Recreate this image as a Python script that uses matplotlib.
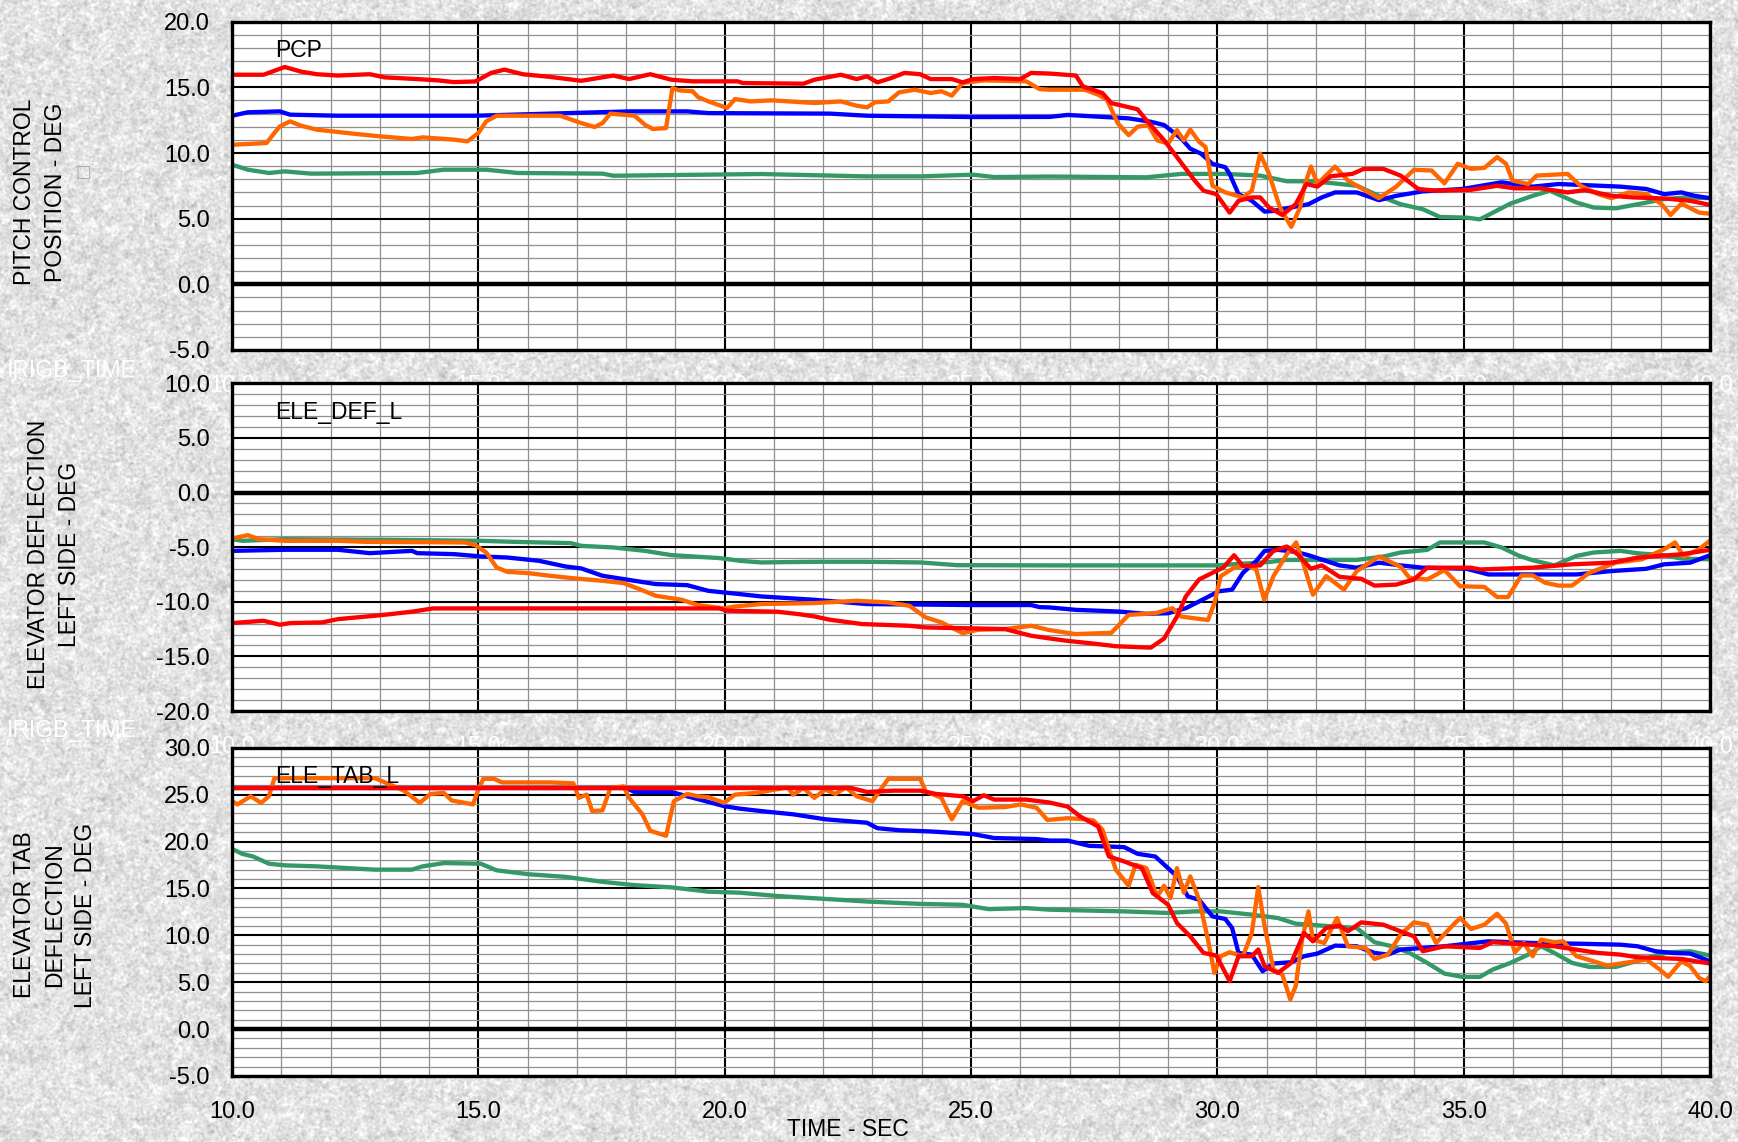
import numpy as np
import matplotlib
matplotlib.use("Agg")
import matplotlib.pyplot as plt
from matplotlib.ticker import MultipleLocator, FormatStrFormatter

plt.rcParams['font.family'] = ['Liberation Sans', 'DejaVu Sans']

# ---------------- time-history data (time in s, angle in deg) ----------------
# Pitch control position
pcp_red_t = [10, 10.64, 11.07, 11.4, 11.72, 12.15, 12.8, 13.1, 13.76, 14.19, 14.5, 14.94, 15.26, 15.53, 15.9,
             16.45, 17.09, 17.74, 18.06, 18.49, 18.92, 19.35, 20.26, 20.37, 21.6, 21.82, 22.36, 22.68, 22.89, 23.1,
             23.38, 23.65, 23.97, 24.18, 24.61, 24.83, 25.04, 25.47, 26.0, 26.22, 26.6, 27.13, 27.27, 27.67, 27.85,
             28.38, 28.56, 28.92, 29.18, 29.54, 29.72, 29.98, 30.25, 30.43, 30.7, 30.87, 31.05, 31.32, 31.59, 31.81,
             32.03, 32.3, 32.74, 32.97, 33.37, 33.72, 34.08, 34.44, 35.15, 35.68, 36.04, 36.57, 37.11, 37.46, 38.0,
             38.44, 39.07, 39.6, 40.0]
pcp_red_v = [15.96, 15.96, 16.55, 16.2, 16.0, 15.9, 16.0, 15.76, 15.63, 15.53, 15.4, 15.45, 16.1, 16.35, 16.0,
             15.8, 15.5, 15.9, 15.63, 16.0, 15.58, 15.46, 15.46, 15.33, 15.28, 15.58, 15.96, 15.63, 15.84, 15.38,
             15.71, 16.1, 16.0, 15.63, 15.63, 15.38, 15.63, 15.71, 15.63, 16.1, 16.05, 15.9, 15.08, 14.56, 13.8,
             13.33, 12.5, 10.97, 9.69, 7.9, 7.13, 6.87, 5.46, 6.36, 6.62, 6.62, 5.85, 5.28, 6.1, 7.64,
             7.44, 8.23, 8.41, 8.79, 8.79, 8.28, 7.26, 7.13, 7.2, 7.5, 7.31, 7.31, 7.0, 7.18, 6.74,
             6.62, 6.54, 6.36, 6.05]

pcp_blue_t = [10, 10.32, 10.97, 11.18, 12.15, 14.94, 16.45, 18.06, 19.24, 19.67, 22.14, 22.89, 25.04, 26.6, 26.96,
              28.2, 28.65, 28.92, 29.27, 29.45, 29.67, 29.9, 30.16, 30.25, 30.43, 30.7, 30.96, 31.14, 31.59, 31.85,
              32.12, 32.39, 32.83, 33.28, 33.63, 34.17, 34.97, 35.77, 36.4, 36.93, 38.18, 38.71, 39.07, 39.42, 39.69,
              40.0]
pcp_blue_v = [12.84, 13.1, 13.17, 12.92, 12.84, 12.84, 13.0, 13.17, 13.17, 13.04, 13.0, 12.84, 12.74, 12.75, 12.9,
              12.64, 12.38, 12.13, 11.1, 10.33, 9.95, 9.18, 8.92, 8.41, 6.87, 6.36, 5.54, 5.59, 5.92, 6.1,
              6.62, 7.0, 7.0, 6.41, 6.74, 7.08, 7.26, 7.77, 7.44, 7.64, 7.44, 7.26, 6.87, 7.0, 6.74,
              6.56]

pcp_orange_t = [10, 10.43, 10.7, 10.86, 10.97, 11.18, 11.4, 11.72, 12.47, 13.0,
                13.65, 13.87, 14.51, 14.78, 15.0, 15.16, 15.37, 16.66, 17.09, 17.36,
                17.52, 17.68, 18.17, 18.38, 18.54, 18.81, 18.94, 19.08, 19.35, 19.46,
                19.67, 20.05, 20.21, 20.53, 20.96, 21.82, 22.36, 22.68, 22.89, 23.05,
                23.32, 23.54, 23.86, 24.18, 24.4, 24.61, 24.83, 25.26, 26.12, 26.39,
                26.6, 27.31, 27.58, 27.76, 27.98, 28.2, 28.38, 28.6, 28.78, 29.0,
                29.18, 29.32, 29.45, 29.63, 29.76, 29.9, 30.16, 30.52, 30.7, 30.87,
                31.05, 31.27, 31.5, 31.68, 31.77, 31.9, 32.03, 32.39, 32.65, 33.01,
                33.28, 33.63, 33.99, 34.35, 34.61, 34.88, 35.15, 35.42, 35.68, 35.86,
                35.99, 36.31, 36.48, 37.11, 37.37, 37.73, 38.0, 38.35, 38.71, 39.02,
                39.2, 39.42, 39.78, 40.0]
pcp_orange_v = [10.63, 10.71, 10.76, 11.52, 12.03, 12.41, 12.08, 11.78, 11.47, 11.27,
                11.07, 11.19, 11.02, 10.89, 11.52, 12.41, 12.84, 12.84, 12.28, 11.98,
                12.28, 13.0, 12.84, 12.16, 11.83, 11.9, 14.95, 14.77, 14.7, 14.26,
                13.93, 13.43, 14.11, 13.93, 14.01, 13.81, 13.93, 13.6, 13.48, 13.86,
                13.93, 14.62, 14.82, 14.57, 14.7, 14.37, 15.33, 15.53, 15.46, 14.87,
                14.82, 14.82, 14.44, 14.05, 12.26, 11.36, 12.0, 12.13, 10.97, 10.72,
                11.74, 10.97, 11.79, 10.85, 10.46, 7.51, 7.0, 6.62, 7.13, 9.95,
                8.41, 5.85, 4.38, 5.85, 7.51, 8.97, 7.64, 8.97, 7.9, 7.13,
                6.56, 7.44, 8.72, 8.67, 7.69, 9.18, 8.79, 8.87, 9.69, 9.18,
                7.9, 7.64, 8.28, 8.41, 7.51, 6.87, 6.56, 7.0, 6.87, 6.1,
                5.28, 6.15, 5.46, 5.38]

pcp_green_t = [10, 10.32, 10.75, 11.07, 11.61, 13.76, 14.3, 15.16, 15.8, 17.52,
               17.74, 20.74, 22.89, 23.97, 25.04, 25.47, 26.6, 28.56, 29.27, 30.16,
               30.87, 31.41, 31.94, 32.83, 33.28, 33.72, 34.17, 34.52, 35.06, 35.33,
               35.95, 36.4, 36.75, 37.29, 37.64, 38.09, 38.53, 39.07, 39.51, 40.0]
pcp_green_v = [9.11, 8.73, 8.48, 8.6, 8.43, 8.48, 8.73, 8.73, 8.48, 8.43,
               8.27, 8.4, 8.22, 8.22, 8.35, 8.17, 8.21, 8.15, 8.41, 8.41,
               8.28, 7.85, 7.85, 7.51, 6.74, 6.1, 5.72, 5.13, 5.08, 4.95,
               6.15, 6.74, 7.13, 6.23, 5.85, 5.79, 6.1, 6.49, 6.62, 6.56]

# Elevator deflection, left side
def_green_t = [10, 10.21, 11.07, 13.22, 15.05, 15.69, 16.88, 17.09, 17.74, 18.38,
               18.92, 19.89, 20.31, 20.74, 21.82, 22.89, 23.97, 24.72, 26.6, 29.98,
               31.05, 31.41, 32.83, 33.37, 33.72, 34.26, 34.52, 35.42, 35.77, 36.13,
               36.4, 36.84, 37.29, 37.64, 38.18, 38.53, 39.07, 39.42, 40.0]
def_green_v = [-4.27, -4.42, -4.27, -4.33, -4.42, -4.51, -4.63, -4.88, -5.03, -5.34,
               -5.73, -6.0, -6.25, -6.4, -6.34, -6.34, -6.4, -6.65, -6.67, -6.67,
               -6.36, -6.17, -6.17, -5.86, -5.49, -5.25, -4.57, -4.57, -5.03, -5.8,
               -6.2, -6.67, -5.8, -5.49, -5.34, -5.56, -5.74, -6.05, -6.11]

def_orange_t = [10, 10.32, 10.54, 11.07, 12.15, 12.69, 14.73, 14.94, 15.16, 15.37,
                15.59, 16.02, 16.45, 16.98, 17.52, 17.95, 18.27, 18.6, 19.13, 19.46,
                19.99, 20.21, 20.74, 21.82, 22.68, 23.32, 23.75, 24.08, 24.4, 24.83,
                25.15, 25.69, 26.22, 26.6, 27.13, 27.85, 28.2, 28.74, 29.09, 29.27,
                29.81, 29.94, 30.07, 30.34, 30.61, 30.79, 30.95, 31.14, 31.41, 31.6,
                31.76, 31.94, 32.21, 32.57, 32.83, 33.28, 33.72, 33.9, 34.26, 34.61,
                34.93, 35.42, 35.68, 35.9, 36.17, 36.4, 36.66, 36.93, 37.2, 37.55,
                38.09, 38.62, 39.07, 39.29, 39.47, 39.78, 40.0]
def_orange_v = [-4.21, -3.9, -4.27, -4.42, -4.42, -4.51, -4.57, -4.82, -5.49, -6.86,
                -7.26, -7.38, -7.62, -7.87, -8.08, -8.29, -8.84, -9.45, -9.82, -10.3,
                -10.61, -10.43, -10.21, -10.12, -9.91, -10.06, -10.37, -11.43, -11.89, -12.87,
                -12.56, -12.5, -12.2, -12.6, -12.96, -12.84, -11.2, -11.05, -10.59, -11.36,
                -11.67, -10.12, -7.65, -6.88, -6.67, -7.04, -9.81, -7.65, -5.65, -4.57,
                -6.73, -9.35, -7.65, -8.89, -7.19, -5.86, -6.79, -7.81, -7.96, -7.1,
                -8.58, -8.64, -9.57, -9.57, -7.59, -7.59, -8.27, -8.52, -8.52, -7.35,
                -6.42, -6.11, -5.19, -4.57, -5.86, -5.19, -4.41]

def_blue_t = [10, 11.07, 12.15, 12.79, 13.65, 13.76, 14.51, 15.05, 15.59, 16.23,
              16.77, 17.09, 17.52, 18.17, 18.6, 19.24, 19.67, 20.31, 20.74, 21.82,
              22.89, 25.04, 26.22, 26.39, 26.6, 27.13, 28.02, 28.56, 29.0, 29.36,
              29.63, 30.03, 30.3, 30.52, 30.79, 30.96, 31.23, 31.59, 31.85, 32.21,
              32.48, 32.83, 33.28, 33.72, 34.17, 35.06, 35.5, 37.29, 38.0, 38.71,
              39.07, 39.6, 39.87, 40.0]
def_blue_v = [-5.34, -5.24, -5.24, -5.55, -5.34, -5.55, -5.64, -5.85, -5.95, -6.25,
              -6.77, -6.95, -7.62, -8.08, -8.38, -8.48, -9.0, -9.3, -9.51, -9.82,
              -10.21, -10.3, -10.3, -10.49, -10.52, -10.74, -10.9, -11.11, -11.05, -10.59,
              -9.97, -9.04, -8.89, -7.35, -6.27, -5.34, -5.25, -5.43, -5.74, -6.27,
              -6.67, -6.88, -6.42, -6.67, -6.88, -6.98, -7.5, -7.5, -7.19, -6.98,
              -6.57, -6.42, -5.96, -5.74]

def_red_t = [10, 10.64, 10.97, 11.18, 11.83, 12.15, 12.9, 13.22, 13.65, 14.08,
             19.89, 20.05, 21.07, 21.5, 21.82, 22.14, 22.79, 23.75, 24.08, 25.69,
             26.22, 26.6, 26.96, 27.49, 27.94, 28.65, 28.92, 29.18, 29.36, 29.63,
             29.9, 30.12, 30.34, 30.52, 30.87, 31.14, 31.41, 31.63, 31.9, 32.12,
             32.3, 32.48, 32.92, 33.19, 33.63, 33.99, 34.26, 35.15, 35.33, 36.4,
             37.2, 38.0, 38.53, 39.42, 40.0]
def_red_v = [-11.95, -11.74, -12.1, -11.95, -11.89, -11.59, -11.28, -11.13, -10.91, -10.61,
             -10.61, -10.82, -10.91, -11.13, -11.34, -11.65, -12.04, -12.2, -12.35, -12.5,
             -13.11, -13.36, -13.58, -13.83, -14.07, -14.2, -13.36, -11.36, -9.51, -7.96,
             -7.35, -6.88, -5.74, -6.73, -6.67, -5.34, -4.94, -5.65, -6.98, -6.67,
             -7.19, -7.72, -7.9, -8.52, -8.43, -7.96, -6.88, -6.88, -7.04, -6.88,
             -6.57, -6.42, -5.96, -5.65, -5.25]

# Elevator tab deflection, left side
tab_red_t = [10, 22.57, 22.89, 23.43, 23.97, 24.29, 24.83, 25.04, 25.26, 25.47,
             26.12, 26.6, 26.96, 27.22, 27.58, 27.8, 28.11, 28.47, 28.69, 29.0,
             29.18, 29.45, 29.72, 29.98, 30.25, 30.43, 30.7, 30.83, 30.96, 31.23,
             31.5, 31.76, 31.94, 32.21, 32.48, 32.65, 32.92, 33.37, 33.63, 33.99,
             34.17, 34.61, 35.33, 35.59, 36.04, 36.84, 37.73, 38.18, 38.53, 39.42, 40.0]
tab_red_v = [25.7, 25.7, 25.28, 25.42, 25.42, 25.07, 24.82, 24.3, 24.93, 24.47,
             24.47, 24.15, 23.72, 22.66, 21.6, 18.4, 17.87, 17.16, 14.5, 13.26,
             11.31, 9.89, 8.12, 7.84, 5.11, 7.77, 7.77, 8.48, 6.7, 5.99,
             7.06, 10.25, 9.36, 10.78, 11.03, 10.43, 11.38, 11.13, 10.6, 9.89,
             8.3, 8.83, 8.65, 9.26, 9.11, 8.83, 8.12, 7.94, 7.66, 7.48, 6.99]

tab_orange_t = [10, 10.11, 10.38, 10.59, 10.75, 10.86, 12.9, 13.22, 13.49, 13.81,
                14.03, 14.3, 14.46, 14.73, 14.89, 15.0, 15.1, 15.32, 15.48, 16.45,
                16.93, 17.04, 17.2, 17.31, 17.52, 17.68, 17.95, 18.06, 18.33, 18.49,
                18.81, 18.97, 19.24, 19.46, 19.67, 19.99, 20.21, 20.64, 21.28, 21.39,
                21.6, 21.82, 22.04, 22.25, 22.46, 22.68, 23.0, 23.32, 23.97, 24.08,
                24.4, 24.61, 24.83, 25.15, 25.69, 26.01, 26.33, 26.55, 26.96, 27.31,
                27.49, 27.67, 27.94, 28.2, 28.34, 28.56, 28.78, 28.92, 29.05, 29.18,
                29.32, 29.45, 29.63, 29.81, 29.94, 30.07, 30.25, 30.52, 30.7, 30.83,
                30.96, 31.14, 31.32, 31.48, 31.59, 31.72, 31.85, 31.94, 32.17, 32.43,
                32.65, 33.01, 33.19, 33.46, 33.72, 33.99, 34.26, 34.44, 34.79, 34.93,
                35.15, 35.42, 35.68, 35.86, 36.04, 36.22, 36.4, 36.57, 36.84, 37.02,
                37.29, 37.64, 37.91, 38.27, 38.71, 38.98, 39.15, 39.42, 39.6, 39.78,
                39.91, 40.0]
tab_orange_v = [24.3, 23.95, 24.82, 24.12, 24.82, 26.75, 26.75, 26.05, 25.42, 24.12,
                25.07, 25.18, 24.37, 24.12, 23.95, 25.53, 26.68, 26.68, 26.3, 26.3,
                26.2, 24.65, 25.0, 23.25, 23.32, 25.7, 25.88, 24.65, 22.9, 21.14,
                20.61, 24.3, 25.07, 24.82, 24.72, 24.12, 25.0, 25.18, 25.77, 25.0,
                25.7, 24.65, 25.53, 25.07, 25.77, 24.82, 24.3, 26.68, 26.68, 25.35,
                24.65, 22.37, 24.3, 23.6, 23.67, 23.95, 23.6, 22.3, 22.48, 22.37,
                22.23, 21.24, 16.99, 15.28, 17.52, 17.16, 14.15, 15.28, 13.97, 17.16,
                14.54, 16.28, 13.79, 9.54, 5.99, 7.77, 8.19, 7.77, 10.25, 15.14,
                10.96, 6.35, 5.82, 3.16, 4.57, 9.54, 12.55, 9.54, 9.18, 11.84,
                8.83, 8.65, 7.48, 7.94, 10.07, 11.38, 11.13, 9.18, 11.13, 11.84,
                10.67, 11.13, 12.3, 11.24, 8.19, 9.18, 7.77, 9.54, 9.26, 9.36,
                7.77, 7.23, 6.77, 7.06, 7.41, 6.35, 5.57, 7.23, 6.7, 5.46,
                5.11, 5.64]

tab_blue_t = [10, 18.0, 18.17, 18.92, 19.24, 19.99, 20.31, 20.85, 21.39, 22.04,
              22.89, 23.1, 23.54, 24.18, 25.04, 25.47, 26.33, 26.6, 26.96, 27.4,
              28.11, 28.38, 28.74, 29.0, 29.18, 29.4, 29.63, 29.9, 30.16, 30.3,
              30.43, 30.7, 30.92, 31.14, 31.5, 31.76, 32.03, 32.39, 32.83, 33.19,
              33.46, 33.72, 34.17, 34.61, 35.5, 36.4, 37.29, 38.18, 38.53, 38.89,
              39.24, 39.6, 40.0]
tab_blue_v = [25.7, 25.7, 25.28, 25.28, 24.82, 23.77, 23.5, 23.18, 22.9, 22.37,
              22.0, 21.42, 21.2, 21.07, 20.79, 20.37, 20.26, 20.1, 20.1, 19.54,
              19.4, 18.69, 18.4, 17.16, 16.28, 14.15, 13.79, 12.02, 11.74, 10.78,
              8.12, 7.94, 6.17, 6.99, 7.13, 7.77, 8.05, 8.9, 8.83, 8.12,
              7.94, 8.48, 8.65, 8.83, 9.36, 9.18, 9.11, 9.0, 8.83, 8.3,
              8.12, 8.05, 7.23]

tab_green_t = [10, 10.21, 10.43, 10.75, 11.07, 11.72, 12.9, 13.65, 13.87, 14.3,
               15.05, 15.37, 16.02, 16.77, 17.52, 18.17, 18.92, 19.67, 20.31, 21.07,
               21.82, 22.89, 23.97, 24.83, 25.36, 26.12, 26.6, 28.11, 29.0, 29.54,
               30.07, 30.7, 31.23, 31.59, 32.12, 32.83, 33.19, 33.55, 33.9, 34.26,
               34.61, 34.97, 35.33, 35.59, 35.95, 36.31, 36.57, 36.84, 37.2, 37.55,
               38.09, 38.62, 39.15, 39.6, 40.0]
tab_green_v = [19.21, 18.68, 18.4, 17.63, 17.46, 17.35, 17.0, 17.0, 17.35, 17.7,
               17.63, 16.93, 16.51, 16.23, 15.7, 15.35, 15.11, 14.65, 14.54, 14.19,
               13.95, 13.6, 13.35, 13.25, 12.79, 12.9, 12.73, 12.55, 12.38, 12.55,
               12.55, 12.2, 11.84, 11.24, 11.03, 10.78, 9.26, 8.83, 8.12, 7.06,
               5.92, 5.57, 5.57, 6.35, 7.06, 7.94, 8.83, 8.12, 7.06, 6.63,
               6.63, 7.41, 8.19, 8.3, 7.84]

panel_titles = ["PCP", "ELE_DEF_L", "ELE_TAB_L"]
panel_ylabels = ["PITCH CONTROL\nPOSITION - DEG",
                 "ELEVATOR DEFLECTION\nLEFT SIDE - DEG",
                 "ELEVATOR TAB\nDEFLECTION\nLEFT SIDE - DEG"]
panel_ylims = [(-5, 20), (-20, 10), (-5, 30)]
x_ticks = [10, 15, 20, 25, 30, 35, 40]

C_GREEN, C_BLUE, C_ORANGE, C_RED = "#339966", "#0000FF", "#FF6600", "#FF0000"

panel_series = [
    [(pcp_green_t, pcp_green_v, C_GREEN), (pcp_blue_t, pcp_blue_v, C_BLUE),
     (pcp_orange_t, pcp_orange_v, C_ORANGE), (pcp_red_t, pcp_red_v, C_RED)],
    [(def_green_t, def_green_v, C_GREEN), (def_blue_t, def_blue_v, C_BLUE),
     (def_orange_t, def_orange_v, C_ORANGE), (def_red_t, def_red_v, C_RED)],
    [(tab_green_t, tab_green_v, C_GREEN), (tab_blue_t, tab_blue_v, C_BLUE),
     (tab_orange_t, tab_orange_v, C_ORANGE), (tab_red_t, tab_red_v, C_RED)],
]

# ---------------- figure with a granite-like backdrop ----------------
W, H = 1738, 1142
fig = plt.figure(figsize=(W / 100, H / 100), dpi=100)

rng = np.random.default_rng(11)


def smooth(a, s):
    fy = np.fft.fftfreq(a.shape[0])[:, None]
    fx = np.fft.fftfreq(a.shape[1])[None, :]
    g = np.exp(-2 * (np.pi * s) ** 2 * (fx ** 2 + fy ** 2))
    return np.real(np.fft.ifft2(np.fft.fft2(a) * g))


fine = smooth(rng.standard_normal((H, W)), 0.9)
coarse = smooth(rng.standard_normal((H, W)), 2.5)
fine /= fine.std()
coarse /= coarse.std()
tex = np.clip(0.89 + 0.038 * fine + 0.02 * coarse, 0.70, 1.0)
fig.figimage(np.dstack([tex, tex, tex]), 0, 0, zorder=-10)

# ---------------- panels ----------------
ax_left, ax_right = 232 / W, 1710 / W
panel_px = [(21.7, 350), (383.3, 711), (747.7, 1076)]
title_y = [17.3, 6.7, 26.2]
ylabel_pos = [(40, 192), (54, 554), (55, 915)]

FS_TICK = 17
FS = 16.5
for i in range(3):
    top_px, bot_px = panel_px[i]
    ax = fig.add_axes([ax_left, 1 - bot_px / H, ax_right - ax_left, (bot_px - top_px) / H])
    ax.set_facecolor("white")
    ax.set_xlim(10, 40)
    ax.set_ylim(*panel_ylims[i])
    ax.set_xticks(x_ticks)
    ax.yaxis.set_major_locator(MultipleLocator(5))
    ax.xaxis.set_minor_locator(MultipleLocator(1))
    ax.yaxis.set_minor_locator(MultipleLocator(1))
    ax.xaxis.set_major_formatter(FormatStrFormatter("%.1f"))
    ax.yaxis.set_major_formatter(FormatStrFormatter("%.1f"))
    ax.tick_params(which="both", length=0)
    ax.tick_params(axis="y", labelsize=FS_TICK, pad=16, labelcolor="black")
    ax.tick_params(axis="x", labelsize=FS_TICK, pad=18,
                   labelcolor="black" if i == 2 else "white")
    ax.set_axisbelow(True)
    ax.grid(which="minor", color="#8f8f8f", lw=0.9)
    ax.grid(which="major", color="black", lw=1.5)
    ax.axhline(0, color="black", lw=3.2, zorder=1.5)
    for sp in ax.spines.values():
        sp.set_linewidth(2.4)
        sp.set_color("black")

    for t, v, c in panel_series[i]:
        ax.plot(t, v, color=c, lw=3.1, solid_joinstyle="round", zorder=2)

    ax.text(10.88, title_y[i], panel_titles[i], fontsize=FS, ha="left",
            va="baseline", zorder=5)

    lx, ly = ylabel_pos[i]
    fig.text(lx / W, 1 - ly / H, panel_ylabels[i], rotation=90, fontsize=FS,
             ha="center", va="center", multialignment="center", linespacing=1.4)

    if i < 2:
        fig.text(7 / W, 1 - (bot_px + 20) / H, "IRIGB_TIME", color="white",
                 fontsize=FS, ha="left", va="center")

fig.text(83 / W, 1 - 172 / H, "\u25a1", color="#a8a8a8", fontsize=12,
         ha="center", va="center", family="DejaVu Sans")
fig.text(848 / W, 1 - 1130 / H, "TIME - SEC", fontsize=FS, ha="center", va="center")

fig.savefig("out.png", dpi=100)
